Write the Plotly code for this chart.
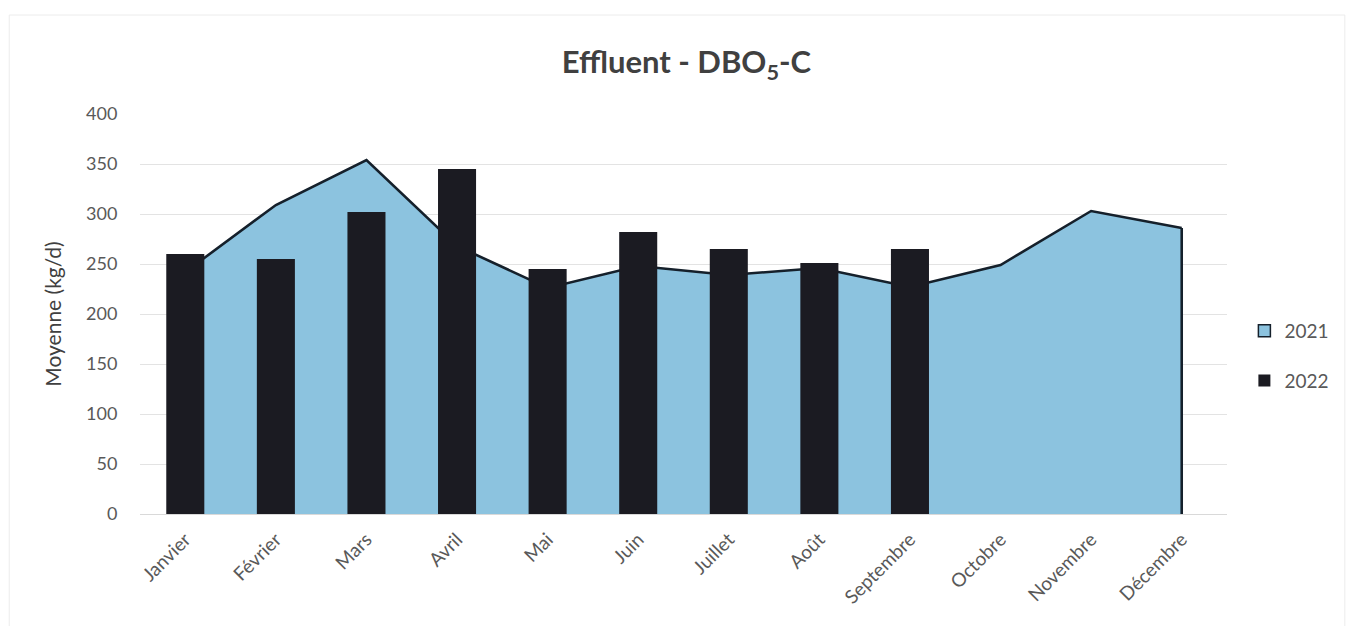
import plotly.graph_objects as go

months = ["Janvier", "Février", "Mars", "Avril", "Mai", "Juin", "Juillet",
          "Août", "Septembre", "Octobre", "Novembre", "Décembre"]
vals_2021 = [242, 309, 354, 268, 226, 248, 239, 246, 227, 249, 303, 286]
months_2022 = ["Janvier", "Février", "Mars", "Avril", "Mai", "Juin", "Juillet",
               "Août", "Septembre"]
vals_2022 = [260, 255, 302, 345, 245, 282, 265, 251, 265]
y_ticks = [0, 50, 100, 150, 200, 250, 300, 350, 400]

AREA = "#8cc3df"
EDGE = "#15202b"
BAR = "#1b1b22"
FONT = "Lato, 'Open Sans', sans-serif"

fig = go.Figure()

# area 2021 (fill)
fig.add_trace(go.Scatter(
    x=months, y=vals_2021, mode="lines", fill="tozeroy",
    fillcolor=AREA, line=dict(color=EDGE, width=2.6),
    showlegend=False, hoverinfo="skip"))
# right-hand vertical edge of the area
fig.add_trace(go.Scatter(
    x=[months[-1], months[-1]], y=[vals_2021[-1], 0], mode="lines",
    line=dict(color=EDGE, width=2.6), showlegend=False, hoverinfo="skip"))

# legend proxy for 2021 (no visible marks)
fig.add_trace(go.Bar(x=months, y=[None] * len(months), name="2021",
                     legendgroup="a",
                     marker=dict(color=AREA, line=dict(color=EDGE, width=1.5)),
                     yaxis="y2"))
# bars 2022 on an overlaying axis so they sit above the area
fig.add_trace(go.Bar(x=months_2022, y=vals_2022, name="2022",
                     legendgroup="b",
                     marker=dict(color=BAR, line=dict(width=0)),
                     width=0.42, yaxis="y2"))

fig.update_layout(
    width=1338, height=618,
    paper_bgcolor="white", plot_bgcolor="white",
    margin=dict(l=132, r=105, t=106, b=112),
    font=dict(family=FONT, color="#595959", size=18),
    title=dict(text="<b>Effluent - DBO<sub>5</sub>-C</b>", x=0.507, xanchor="center",
               y=0.912, yanchor="middle",
               font=dict(family=FONT, size=31, color="#404040")),
    barmode="overlay",
    xaxis=dict(categoryorder="array", categoryarray=months,
               range=[-0.5, 11.5], tickangle=-45, showgrid=False,
               showline=True, linecolor="#d9d9d9", linewidth=1,
               ticks="outside", ticklen=6, tickcolor="rgba(0,0,0,0)",
               tickfont=dict(size=19, color="#595959"), automargin=False),
    yaxis=dict(range=[0, 400], tickvals=y_ticks, showgrid=True,
               gridcolor="#e3e3e3", gridwidth=1, zeroline=False,
               ticks="outside", ticklen=18, tickcolor="rgba(0,0,0,0)",
               tickfont=dict(size=18, color="#595959"), automargin=False,
               title=dict(text="Moyenne (kg/d)", standoff=18,
                          font=dict(size=21, color="#404040"))),
    yaxis2=dict(range=[0, 400], overlaying="y", matches="y", visible=False),
    legend=dict(x=1.016, y=0.395, xanchor="left", yanchor="middle",
                font=dict(size=19, color="#595959"), itemwidth=30,
                tracegroupgap=22, bgcolor="rgba(0,0,0,0)"),
    shapes=[dict(type="rect", xref="paper", yref="paper",
                 x0=-0.1203, x1=1.1084, y0=-0.285, y1=1.2475,
                 line=dict(color="#ececec", width=1), layer="below")],
)

fig.write_html("out.html")
